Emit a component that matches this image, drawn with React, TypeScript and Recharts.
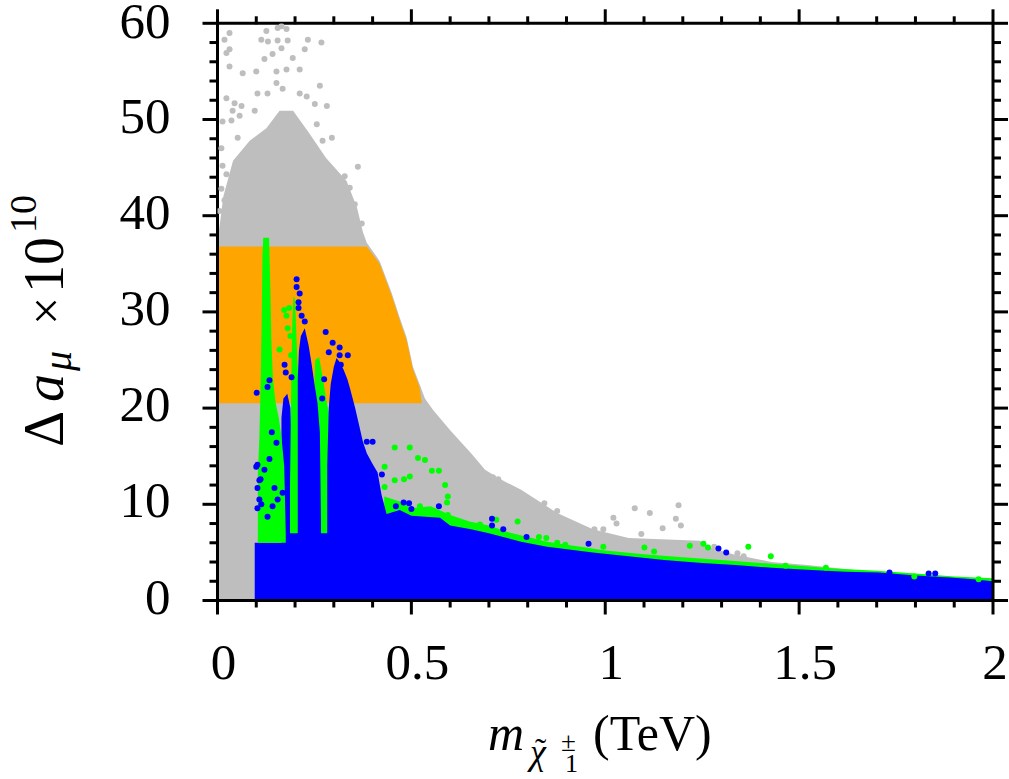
import React from 'react';
import { ComposedChart, Area, Scatter, XAxis, YAxis } from 'recharts';

// ---- tick values ----
const xMajorTicks = [0, 0.5, 1, 1.5, 2];
const xTicks = [0, 0.1, 0.2, 0.3, 0.4, 0.5, 0.6, 0.7, 0.8, 0.9, 1, 1.1, 1.2, 1.3, 1.4, 1.5, 1.6, 1.7, 1.8, 1.9, 2];
const yMajorTicks = [0, 10, 20, 30, 40, 50, 60];
const yTicks = [0, 2, 4, 6, 8, 10, 12, 14, 16, 18, 20, 22, 24, 26, 28, 30, 32, 34, 36, 38, 40, 42, 44, 46, 48, 50, 52, 54, 56, 58, 60];

// ---- dense regions: [x (TeV), upper edge of Δa_μ×10^10] ----
const grayTop = [
  [0.004, 38.5], [0.015, 42], [0.04, 45.7], [0.083, 47.8], [0.126, 49.1], [0.16, 50.9], [0.195, 50.9],
  [0.238, 48.5], [0.28, 46], [0.333, 43.6], [0.36, 40.8], [0.375, 38.3], [0.385, 37.2], [0.418, 35.3],
  [0.449, 32], [0.47, 29.4], [0.488, 27.3], [0.504, 24.3], [0.521, 22.5], [0.535, 21], [0.556, 19.8],
  [0.6, 17.7], [0.654, 15.3], [0.69, 13.6], [0.73, 12.6], [0.783, 11.5], [0.876, 9.1], [0.968, 7.4],
  [1.06, 6.5], [1.244, 6.2], [1.263, 5.6], [1.33, 4.8], [1.429, 4.0], [1.521, 3.7], [1.705, 2.9],
  [1.85, 2.5], [1.998, 2.2],
];
const grayLow = 0;

const orangeTop = [
  [0.004, 36.8], [0.385, 36.8], [0.418, 35], [0.449, 31.7], [0.47, 29.1], [0.488, 27], [0.504, 24],
  [0.521, 22.2], [0.527, 20.5],
];
const orangeLow = 20.5;

const greenFringeTop = [
  [0.43, 10.8], [0.47, 10.3], [0.5, 9.6], [0.55, 9.8], [0.6, 8.9], [0.65, 8.2], [0.7, 7.8], [0.75, 7.1],
  [0.8, 6.6], [0.85, 6.1], [0.9, 5.8], [0.95, 5.5], [1.0, 5.2], [1.1, 4.8], [1.2, 4.5], [1.3, 4.2],
  [1.4, 3.9], [1.5, 3.6], [1.6, 3.3], [1.7, 3.1], [1.8, 2.8], [1.9, 2.5], [1.998, 2.3],
];
const greenFringeLow = 0;

const blueBaseTop = [
  [0.096, 6], [0.165, 6], [0.17, 7.2], [0.36, 7.6], [0.39, 8.8], [0.436, 9.0], [0.47, 9.4], [0.5, 8.8],
  [0.574, 8.6], [0.6, 7.8], [0.654, 7.4], [0.7, 7.0], [0.783, 6.1], [0.85, 5.6], [0.968, 5.0],
  [1.06, 4.6], [1.152, 4.2], [1.25, 3.9], [1.336, 3.7], [1.43, 3.4], [1.521, 3.2], [1.62, 3.0],
  [1.705, 2.9], [1.8, 2.6], [1.889, 2.4], [1.95, 2.2], [1.998, 2.0],
];
const blueClusterTop = [[0.165, 19], [0.17, 21], [0.18, 21.5], [0.188, 20], [0.193, 14], [0.198, 8]];

const greenSpike1Top = [
  [0.104, 13], [0.108, 17], [0.111, 22], [0.114, 29], [0.116, 36], [0.118, 37.7], [0.133, 37.7],
  [0.136, 33], [0.139, 27], [0.143, 23], [0.15, 20.5], [0.158, 19], [0.165, 17], [0.172, 14], [0.176, 7],
];
const greenSpike1Low = 6;

const greenSpike2Top = [
  [0.187, 12], [0.19, 22], [0.193, 29], [0.196, 31.6], [0.2, 31.3], [0.204, 27], [0.208, 23], [0.214, 19], [0.217, 10],
];
const greenSpike3Top = [
  [0.248, 20], [0.252, 25], [0.262, 25.3], [0.27, 23.5], [0.28, 21], [0.29, 19], [0.295, 8],
];
const greenStripeLow = 7;

const blueSpikeATop = [
  [0.207, 23], [0.21, 26], [0.215, 27.5], [0.225, 28.3], [0.235, 26.5], [0.243, 24.5], [0.25, 22.5],
  [0.258, 20.5], [0.264, 17.5], [0.267, 8],
];
const blueSpikeBTop = [
  [0.283, 14], [0.287, 20], [0.292, 22.5], [0.3, 24.3], [0.307, 25.2], [0.315, 24.8], [0.325, 24],
  [0.335, 23], [0.342, 22], [0.355, 20], [0.362, 18.8], [0.375, 16.5], [0.385, 15.3], [0.4, 14.2],
  [0.413, 13.3], [0.423, 11], [0.436, 9.0],
];
const blueSpikeLow = 0;

// ---- isolated points [x, y] ----
const grayDots = [
  [0.031, 59.0], [0.018, 58.3], [0.155, 59.5], [0.165, 59.7], [0.178, 59.4], [0.126, 59.2], [0.113, 58.3],
  [0.13, 58.1], [0.155, 58.2], [0.181, 58.2], [0.233, 58.3], [0.268, 58.0], [0.165, 57.4], [0.031, 57.3],
  [0.023, 56.9], [0.225, 57.3], [0.142, 56.8], [0.121, 56.3], [0.194, 56.4], [0.031, 55.5], [0.065, 54.8],
  [0.1, 55.0], [0.152, 55.0], [0.178, 55.2], [0.212, 55.2], [0.264, 53.5], [0.152, 53.8], [0.168, 53.2],
  [0.103, 52.7], [0.129, 52.7], [0.023, 52.2], [0.044, 51.7], [0.062, 51.4], [0.251, 51.6], [0.212, 52.7],
  [0.23, 52.4], [0.282, 51.4], [0.096, 50.9], [0.039, 50.9], [0.057, 50.4], [0.013, 49.8], [0.036, 49.9],
  [0.256, 49.5], [0.295, 48.1], [0.271, 47.8], [0.01, 47.0], [0.362, 45.1], [0.328, 44.1], [0.341, 42.9],
  [0.354, 41.2], [0.372, 39.2], [0.01, 42.8], [0.005, 40.5], [0.018, 41.6], [0.023, 44.3], [0.013, 45.2],
  [0.052, 48.1],
  [1.076, 9.6], [1.115, 9.1], [1.189, 9.9], [1.182, 8.5], [1.195, 7.8], [1.021, 8.6], [1.029, 8.0],
  [1.148, 7.5], [1.093, 6.9], [1.341, 4.9], [1.357, 4.6], [0.876, 9.3], [0.843, 10.1], [0.972, 7.4],
  [0.995, 7.4], [1.281, 5.6], [0.71, 12.8], [0.724, 12.6],
];
const greenDots = [
  [0.457, 15.9], [0.496, 15.9], [0.517, 14.8], [0.535, 14.6], [0.431, 13.9], [0.457, 12.5], [0.481, 12.6],
  [0.496, 12.9], [0.553, 13.5], [0.571, 13.5], [0.587, 12.0], [0.594, 10.8], [0.431, 11.8], [0.522, 9.8],
  [0.592, 10.2], [0.677, 7.9], [0.594, 8.9], [0.774, 8.2], [0.719, 8.4], [0.676, 7.8], [0.829, 6.6],
  [0.848, 6.5], [0.876, 6.0], [0.897, 5.8], [0.995, 5.6], [1.101, 5.5], [1.126, 5.1], [1.218, 5.7],
  [1.253, 5.9], [1.265, 5.5], [1.369, 5.6], [1.427, 4.6], [1.465, 3.6], [1.569, 3.4], [1.797, 2.5],
  [1.963, 2.2], [0.172, 30.2], [0.178, 29.6], [0.185, 30.4], [0.181, 28.3], [0.188, 27.5], [0.16, 26.1],
  [0.19, 25.5],
];
const blueDots = [
  [0.204, 33.4], [0.204, 32.6], [0.212, 31.9], [0.209, 31.0], [0.209, 30.4], [0.217, 29.6], [0.225, 29.0],
  [0.279, 27.9], [0.297, 26.8], [0.287, 25.8], [0.315, 26.3], [0.315, 25.5], [0.336, 25.5], [0.318, 24.5],
  [0.173, 24.5], [0.176, 23.7], [0.191, 23.2], [0.134, 22.9], [0.129, 22.2], [0.101, 21.6], [0.1, 13.9],
  [0.103, 11.7], [0.108, 10.5], [0.111, 12.6], [0.14, 17.5], [0.152, 16.4], [0.134, 14.7], [0.385, 16.5],
  [0.4, 16.5], [0.424, 13.1], [0.571, 9.8], [0.494, 10.1], [0.708, 8.5], [0.708, 7.8], [0.737, 7.4],
  [0.797, 6.6], [0.957, 5.9], [1.292, 5.4], [1.312, 5.0], [1.733, 2.9], [1.834, 2.8], [1.851, 2.8],
  [0.103, 14.1], [0.108, 12.5], [0.103, 9.6], [0.121, 13.6], [0.147, 11.7], [0.129, 8.7], [0.113, 10.0],
  [0.168, 11.2], [0.155, 10.5], [0.142, 9.8], [0.27, 21], [0.275, 23], [0.46, 9.8], [0.48, 10.2], [0.5, 9.5],
];

const GRAY = '#BEBEBE';
const ORANGE = '#FFA500';
const GREEN = '#00FF00';
const BLUE = '#0000FF';
const FONT = "'Liberation Serif', 'Times New Roman', serif";

const band = (pts: number[][], lo: number) => pts.map((p) => ({ x: p[0], v: [lo, p[1]] }));
const pts = (arr: number[][]) => arr.map((p) => ({ x: p[0], y: p[1] }));

const isMajor = (v: number, majors: number[]) => majors.some((m) => Math.abs(m - v) < 1e-9);

// axis boxes are 1px thick; ticks are drawn from the axis line outward
const BottomTick = (props: any) => {
  const { x, y, payload } = props;
  const y0 = y - 1;
  const major = isMajor(payload.value, xMajorTicks);
  const shift = payload.value >= 2 ? 2 : 6;
  return (
    <g>
      <line x1={x} x2={x} y1={y0} y2={y0 + (major ? 15 : 8)} stroke="#000" strokeWidth={3} />
      {major && (
        <text x={x + shift} y={y0 + 79} textAnchor="middle" fontFamily={FONT} fontSize={51} fill="#000">
          {String(payload.value)}
        </text>
      )}
    </g>
  );
};
const TopTick = (props: any) => {
  const { x, y, payload } = props;
  const y0 = y + 1;
  const major = isMajor(payload.value, xMajorTicks);
  return <line x1={x} x2={x} y1={y0} y2={y0 - (major ? 15 : 8)} stroke="#000" strokeWidth={3} />;
};
const LeftTick = (props: any) => {
  const { x, y, payload } = props;
  const major = isMajor(payload.value, yMajorTicks);
  const dy = payload.value >= 60 ? 15 : 13;
  return (
    <g>
      <line x1={x} x2={x - (major ? 15 : 8)} y1={y} y2={y} stroke="#000" strokeWidth={3} />
      {major && (
        <text x={x - 47} y={y + dy} textAnchor="end" fontFamily={FONT} fontSize={51} fill="#000">
          {String(payload.value)}
        </text>
      )}
    </g>
  );
};
const RightTick = (props: any) => {
  const { x, y, payload } = props;
  const major = isMajor(payload.value, yMajorTicks);
  return <line x1={x} x2={x + (major ? 15 : 8)} y1={y} y2={y} stroke="#000" strokeWidth={3} />;
};

const dotShape = (color: string) => (props: any) => <circle cx={props.cx} cy={props.cy} r={3} fill={color} />;

const axisLine = { stroke: '#000', strokeWidth: 3 };

const areaCommon = {
  xAxisId: 'b',
  yAxisId: 'l',
  dataKey: 'v',
  type: 'linear' as const,
  stroke: 'none',
  fillOpacity: 1,
  dot: false,
  activeDot: false,
  isAnimationActive: false,
};

export default function App() {
  return (
    <div style={{ position: 'absolute', left: 0, top: 0, width: 1009, height: 779, overflow: 'hidden', background: '#fff' }}>
      <ComposedChart width={1009} height={779} margin={{ top: 22.3, left: 216.5, right: 15, bottom: 177.5 }}>
        <XAxis xAxisId="b" orientation="bottom" type="number" dataKey="x" domain={[0, 2]} allowDataOverflow
          ticks={xTicks} interval={0} height={1} tickSize={0} tickMargin={0} tickLine={false}
          axisLine={axisLine} tick={<BottomTick />} />
        <XAxis xAxisId="t" orientation="top" type="number" dataKey="x" domain={[0, 2]} allowDataOverflow
          ticks={xTicks} interval={0} height={1} tickSize={0} tickMargin={0} tickLine={false}
          axisLine={axisLine} tick={<TopTick />} />
        <YAxis yAxisId="l" orientation="left" type="number" dataKey="y" domain={[0, 60]} allowDataOverflow
          ticks={yTicks} interval={0} width={1} tickSize={0} tickMargin={0} tickLine={false}
          axisLine={axisLine} tick={<LeftTick />} />
        <YAxis yAxisId="r" orientation="right" type="number" dataKey="y" domain={[0, 60]} allowDataOverflow
          ticks={yTicks} interval={0} width={1} tickSize={0} tickMargin={0} tickLine={false}
          axisLine={axisLine} tick={<RightTick />} />

        <Area {...areaCommon} data={band(grayTop, grayLow)} fill={GRAY} />
        <Scatter xAxisId="b" yAxisId="l" data={pts(grayDots)} shape={dotShape(GRAY)} isAnimationActive={false} />
        <Area {...areaCommon} data={band(orangeTop, orangeLow)} fill={ORANGE} />
        <Area {...areaCommon} data={band(greenFringeTop, greenFringeLow)} fill={GREEN} />
        <Area {...areaCommon} data={band(blueBaseTop, blueSpikeLow)} fill={BLUE} />
        <Area {...areaCommon} data={band(blueClusterTop, blueSpikeLow)} fill={BLUE} />
        <Area {...areaCommon} data={band(greenSpike1Top, greenSpike1Low)} fill={GREEN} />
        <Area {...areaCommon} data={band(greenSpike2Top, greenStripeLow)} fill={GREEN} />
        <Area {...areaCommon} data={band(greenSpike3Top, greenStripeLow)} fill={GREEN} />
        <Area {...areaCommon} data={band(blueSpikeATop, blueSpikeLow)} fill={BLUE} />
        <Area {...areaCommon} data={band(blueSpikeBTop, blueSpikeLow)} fill={BLUE} />
        <Scatter xAxisId="b" yAxisId="l" data={pts(greenDots)} shape={dotShape(GREEN)} isAnimationActive={false} />
        <Scatter xAxisId="b" yAxisId="l" data={pts(blueDots)} shape={dotShape(BLUE)} isAnimationActive={false} />
      </ComposedChart>

      <svg width={1009} height={779} style={{ position: 'absolute', left: 0, top: 0, pointerEvents: 'none' }}>
        <text transform="translate(63,447) rotate(-90)" fontFamily={FONT} fill="#000">
          <tspan x={0} y={0} fontSize={56}>Δ</tspan>
          <tspan x={45} y={0} fontSize={56} fontStyle="italic">a</tspan>
          <tspan x={76} y={8} fontSize={40} fontStyle="italic">μ</tspan>
          <tspan x={122} y={0} fontSize={50}>×</tspan>
          <tspan x={154} y={0} fontSize={56}>10</tspan>
          <tspan x={214} y={-27} fontSize={38}>10</tspan>
        </text>
        <text fontFamily={FONT} fill="#000">
          <tspan x={488} y={750} fontSize={50} fontStyle="italic">m</tspan>
          <tspan x={530} y={764} fontSize={36} fontStyle="italic">χ</tspan>
          <tspan x={535} y={762} fontSize={34}>˜</tspan>
          <tspan x={561} y={751} fontSize={27}>±</tspan>
        </text>
        <text x={565} y={772} fontFamily={FONT} fontSize={26} fill="#000">1</text>
        <text x={593} y={750} fontFamily={FONT} fontSize={50} fill="#000">(TeV)</text>
      </svg>
    </div>
  );
}
